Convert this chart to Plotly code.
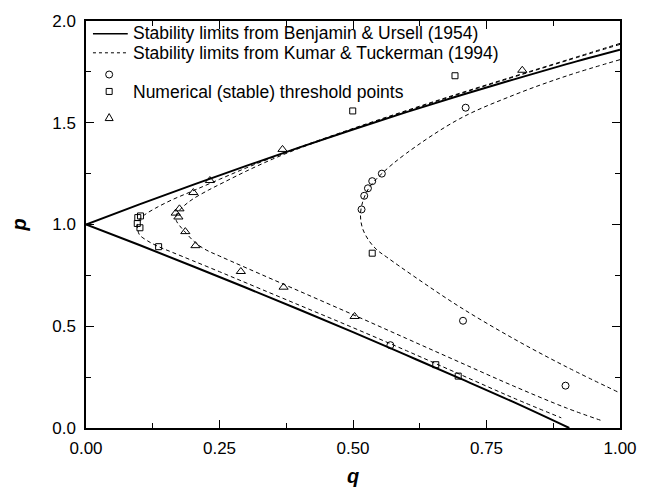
import plotly.graph_objects as go

# ---- Benjamin & Ursell (1954) stability limits (solid) ----
bu_upper_q = [0.0, 0.1, 0.2, 0.3, 0.4, 0.5, 0.6, 0.7, 0.8, 0.9, 1.0]
bu_upper_p = [1.0, 1.099, 1.195, 1.288, 1.379, 1.467, 1.552, 1.634, 1.712, 1.788, 1.859]
bu_lower_q = [0.0, 0.1, 0.2, 0.3, 0.4, 0.5, 0.6, 0.7, 0.8, 0.905]
bu_lower_p = [1.0, 0.899, 0.795, 0.689, 0.581, 0.471, 0.358, 0.244, 0.128, 0.0]

# ---- Kumar & Tuckerman (1994) stability limits (dashed), three curves ----
kt_sq_q = [1.0, 0.9, 0.8, 0.7, 0.6, 0.5, 0.4, 0.35, 0.3, 0.25, 0.2, 0.16, 0.13, 0.11, 0.1, 0.096,
           0.097, 0.1, 0.115, 0.136, 0.16, 0.2, 0.25, 0.3, 0.4, 0.5, 0.6, 0.7, 0.8, 0.89]
kt_sq_p = [1.89, 1.808, 1.727, 1.645, 1.56, 1.472, 1.38, 1.33, 1.278, 1.222, 1.165, 1.12, 1.08, 1.048, 1.025, 1.0,
           0.975, 0.95, 0.92, 0.891, 0.865, 0.822, 0.768, 0.713, 0.603, 0.493, 0.38, 0.264, 0.148, 0.05]

kt_tri_q = [1.0, 0.9, 0.8, 0.7, 0.6, 0.5, 0.4, 0.35, 0.3, 0.26, 0.23, 0.2, 0.185, 0.175, 0.169, 0.169,
            0.175, 0.186, 0.205, 0.225, 0.25, 0.3, 0.4, 0.5, 0.6, 0.7, 0.8, 0.9, 0.967]
kt_tri_p = [1.885, 1.805, 1.724, 1.642, 1.557, 1.468, 1.375, 1.322, 1.262, 1.21, 1.17, 1.125, 1.095, 1.07, 1.045, 1.02,
            0.995, 0.962, 0.91, 0.875, 0.845, 0.787, 0.672, 0.557, 0.44, 0.323, 0.207, 0.098, 0.035]

kt_ci_q = [1.0, 0.9, 0.8, 0.7, 0.6, 0.554, 0.53, 0.518, 0.514,
           0.518, 0.53, 0.545, 0.563, 0.616, 0.7, 0.8, 0.9, 1.0]
kt_ci_p = [1.81, 1.73, 1.635, 1.52, 1.35, 1.25, 1.18, 1.11, 1.045,
           0.98, 0.92, 0.875, 0.84, 0.742, 0.595, 0.44, 0.30, 0.172]

# ---- Numerical (stable) threshold points ----
circ_q = [0.516, 0.521, 0.528, 0.536, 0.554, 0.711, 0.706, 0.570, 0.898]
circ_p = [1.074, 1.141, 1.178, 1.213, 1.250, 1.574, 0.527, 0.407, 0.208]

sq_q = [0.102, 0.097, 0.096, 0.101, 0.136, 0.4995, 0.691, 0.536, 0.655, 0.697]
sq_p = [1.042, 1.034, 1.005, 0.984, 0.891, 1.558, 1.731, 0.859, 0.311, 0.255]

tri_q = [0.232, 0.201, 0.175, 0.168, 0.173, 0.186, 0.205, 0.368, 0.290, 0.370, 0.503, 0.817]
tri_p = [1.216, 1.157, 1.077, 1.056, 1.037, 0.965, 0.896, 1.369, 0.769, 0.692, 0.548, 1.758]

x_ticks = [0.0, 0.25, 0.5, 0.75, 1.0]
x_tick_text = ["0.00", "0.25", "0.50", "0.75", "1.00"]
y_ticks = [0.0, 0.5, 1.0, 1.5, 2.0]
y_tick_text = ["0.0", "0.5", "1.0", "1.5", "2.0"]

legend_labels = ["Stability limits from Benjamin & Ursell (1954)",
                 "Stability limits from Kumar & Tuckerman (1994)",
                 "Numerical (stable) threshold points"]

FONT = "Liberation Sans, Arial, sans-serif"
dash = "4px,3px"

# plot-area geometry (pixels) used for placing the hand-made legend
W, H = 649, 496
ML, MR, MT, MB = 86, 26, 18, 62
PW, PH = W - ML - MR, H - MT - MB


def px(x):
    return (x - ML) / PW


def py(y):
    return (H - MB - y) / PH


fig = go.Figure()

fig.add_trace(go.Scatter(x=bu_upper_q, y=bu_upper_p, mode="lines",
                         line=dict(color="black", width=2, shape="spline"), showlegend=False))
fig.add_trace(go.Scatter(x=bu_lower_q, y=bu_lower_p, mode="lines",
                         line=dict(color="black", width=2, shape="spline"), showlegend=False))
for qq, pp in [(kt_sq_q, kt_sq_p), (kt_tri_q, kt_tri_p), (kt_ci_q, kt_ci_p)]:
    fig.add_trace(go.Scatter(x=qq, y=pp, mode="lines",
                             line=dict(color="black", width=1, dash=dash, shape="spline"), showlegend=False))

mk_line = dict(color="black", width=1)
fig.add_trace(go.Scatter(x=circ_q, y=circ_p, mode="markers", showlegend=False,
                         marker=dict(symbol="circle-open", size=7, color="black", line=mk_line)))
fig.add_trace(go.Scatter(x=sq_q, y=sq_p, mode="markers", showlegend=False,
                         marker=dict(symbol="square-open", size=6, color="black", line=mk_line)))
fig.add_trace(go.Scatter(x=tri_q, y=tri_p, mode="markers", showlegend=False,
                         marker=dict(symbol="triangle-up-open", size=8, color="black", line=mk_line)))

# ---- hand-made legend (matches the uneven spacing of the original) ----
shapes = [
    dict(type="line", xref="paper", yref="paper", x0=px(93), x1=px(128), y0=py(31), y1=py(31),
         line=dict(color="black", width=1.5)),
    dict(type="line", xref="paper", yref="paper", x0=px(93), x1=px(128), y0=py(50.5), y1=py(50.5),
         line=dict(color="black", width=1, dash="3px,3px")),
    dict(type="circle", xref="paper", yref="paper", xsizemode="pixel", ysizemode="pixel",
         xanchor=px(109.3), yanchor=py(72.7), x0=-3.5, x1=3.5, y0=-3.5, y1=3.5,
         line=dict(color="black", width=1)),
    dict(type="rect", xref="paper", yref="paper", xsizemode="pixel", ysizemode="pixel",
         xanchor=px(109.3), yanchor=py(90), x0=-3, x1=3, y0=-3, y1=3,
         line=dict(color="black", width=1)),
    dict(type="path", xref="paper", yref="paper", xsizemode="pixel", ysizemode="pixel",
         xanchor=px(109.3), yanchor=py(116.7), path="M -4,-3 L 4,-3 L 0,4 Z",
         line=dict(color="black", width=1)),
]
ann_font = dict(family=FONT, size=17.5, color="black")
annotations = [
    dict(xref="paper", yref="paper", x=px(132), y=py(30.5), text=legend_labels[0], showarrow=False,
         xanchor="left", yanchor="middle", borderpad=0, font=ann_font),
    dict(xref="paper", yref="paper", x=px(132), y=py(51), text=legend_labels[1], showarrow=False,
         xanchor="left", yanchor="middle", borderpad=0, font=ann_font),
    dict(xref="paper", yref="paper", x=px(132), y=py(90.5), text=legend_labels[2], showarrow=False,
         xanchor="left", yanchor="middle", borderpad=0, font=ann_font),
]

axis_common = dict(
    showline=True, linecolor="black", linewidth=1.5, mirror="allticks",
    ticks="inside", ticklen=8, tickwidth=1, tickcolor="black",
    showgrid=False, zeroline=False,
    tickfont=dict(family=FONT, size=17, color="black"),
)

fig.update_xaxes(range=[0, 1], tickvals=x_ticks, ticktext=x_tick_text,
                 minor=dict(ticks="inside", ticklen=5, tickcolor="black", dtick=0.125, showgrid=False),
                 title=dict(text="<b><i>q</i></b>", font=dict(family=FONT, size=20, color="black"), standoff=12),
                 ticklabelstandoff=4, **axis_common)
fig.update_yaxes(range=[0, 2], tickvals=y_ticks, ticktext=y_tick_text,
                 minor=dict(ticks="inside", ticklen=5, tickcolor="black", dtick=0.25, showgrid=False),
                 title=dict(text="<b><i>p</i></b>", font=dict(family=FONT, size=20, color="black"), standoff=20),
                 ticklabelstandoff=5, **axis_common)

fig.update_layout(
    width=W, height=H,
    margin=dict(l=ML, r=MR, t=MT, b=MB),
    paper_bgcolor="white", plot_bgcolor="white",
    font=dict(family=FONT, color="black"),
    shapes=shapes, annotations=annotations,
    showlegend=False,
)

fig.write_html("out.html")
